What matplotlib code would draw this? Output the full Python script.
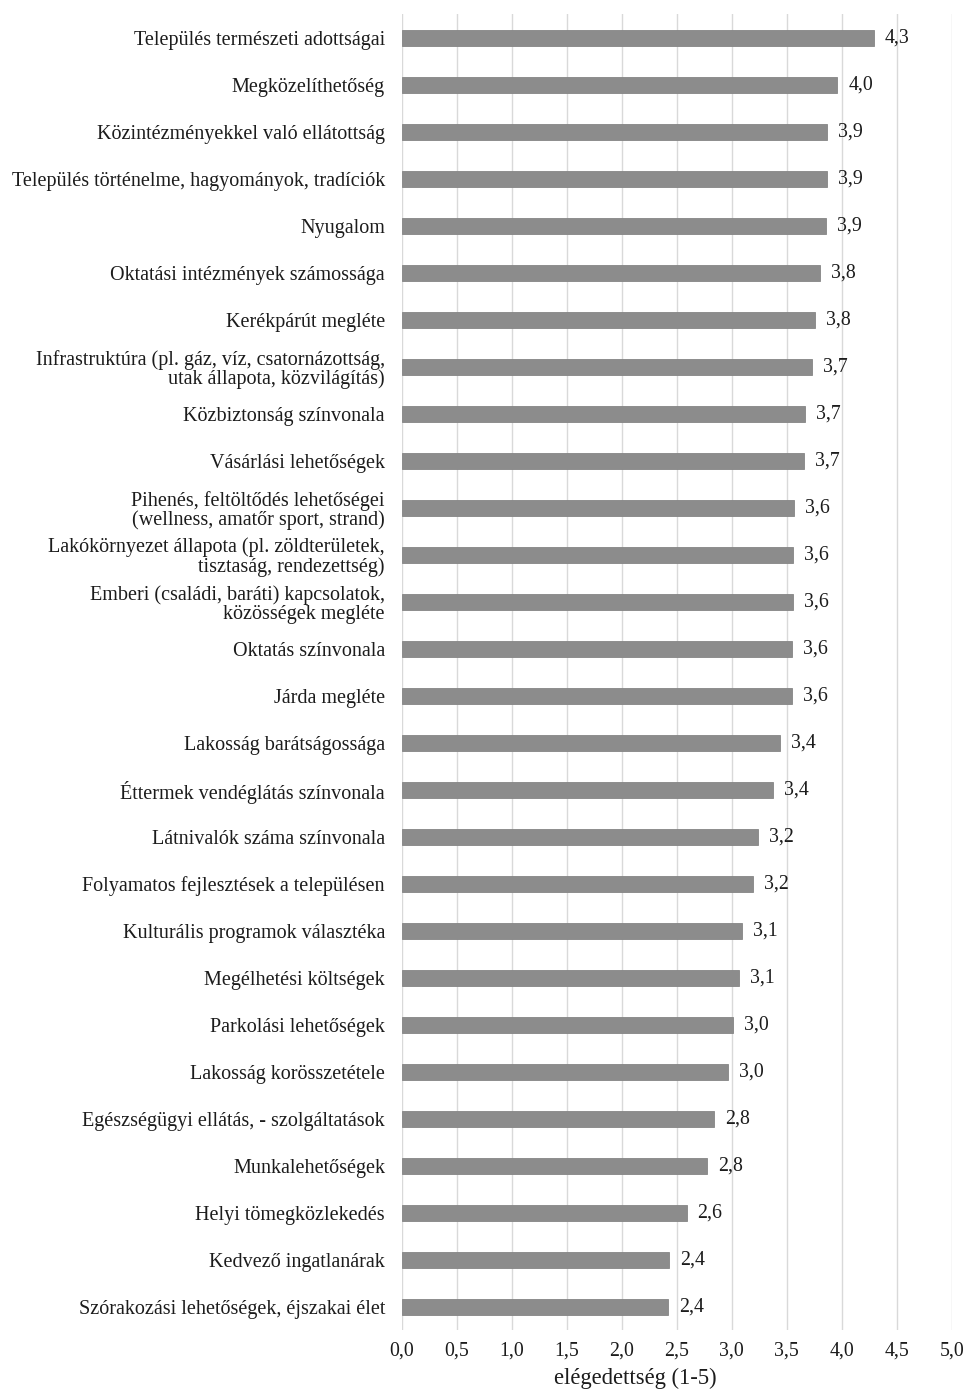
import matplotlib
matplotlib.use("Agg")
import matplotlib.pyplot as plt
import numpy as np

categories = [
    "Település természeti adottságai",
    "Megközelíthetőség",
    "Közintézményekkel való ellátottság",
    "Település történelme, hagyományok, tradíciók",
    "Nyugalom",
    "Oktatási intézmények számossága",
    "Kerékpárút megléte",
    "Infrastruktúra (pl. gáz, víz, csatornázottság,\nutak állapota, közvilágítás)",
    "Közbiztonság színvonala",
    "Vásárlási lehetőségek",
    "Pihenés, feltöltődés lehetőségei\n(wellness, amatőr sport, strand)",
    "Lakókörnyezet állapota (pl. zöldterületek,\ntisztaság, rendezettség)",
    "Emberi (családi, baráti) kapcsolatok,\nközösségek megléte",
    "Oktatás színvonala",
    "Járda megléte",
    "Lakosság barátságossága",
    "Éttermek vendéglátás színvonala",
    "Látnivalók száma színvonala",
    "Folyamatos fejlesztések a településen",
    "Kulturális programok választéka",
    "Megélhetési költségek",
    "Parkolási lehetőségek",
    "Lakosság korösszetétele",
    "Egészségügyi ellátás, - szolgáltatások",
    "Munkalehetőségek",
    "Helyi tömegközlekedés",
    "Kedvező ingatlanárak",
    "Szórakozási lehetőségek, éjszakai élet",
]

values = [4.29, 3.96, 3.87, 3.87, 3.86, 3.80, 3.76, 3.73, 3.67, 3.66,
          3.57, 3.56, 3.56, 3.552, 3.552, 3.44, 3.38, 3.24, 3.19, 3.09,
          3.07, 3.01, 2.97, 2.84, 2.78, 2.59, 2.43, 2.42]

x_ticks = [0.0, 0.5, 1.0, 1.5, 2.0, 2.5, 3.0, 3.5, 4.0, 4.5, 5.0]
x_label = "elégedettség (1-5)"

plt.rcParams['font.family'] = ['Liberation Serif', 'DejaVu Serif']
text_color = "#1c1c1c"

fig = plt.figure(figsize=(9.66, 13.92), dpi=100)
ax = fig.add_axes([0.4158, 0.0442, 0.5694, 0.9454])

y = np.arange(len(categories))
ax.barh(y, values, height=0.34, color="#8c8c8c", edgecolor="#858585", linewidth=0.6, zorder=3)

for yi, v in zip(y, values):
    ax.text(v + 0.1, yi, f"{v:.1f}".replace(".", ","), va="center", ha="left",
            fontsize=14.3, color=text_color, zorder=4)

ax.set_ylim(len(categories) - 0.5, -0.5)
ax.set_xlim(0, 5)
ax.set_yticks(y)
ax.set_yticklabels(categories, fontsize=14.5, color=text_color, linespacing=0.98)
ax.set_xticks(x_ticks)
ax.set_xticklabels([f"{t:.1f}".replace(".", ",") for t in x_ticks], fontsize=14.3, color=text_color)
ax.tick_params(axis="both", length=0)
ax.tick_params(axis="y", pad=12)
ax.tick_params(axis="x", pad=8)
ax.set_xlabel(x_label, fontsize=16.3, color=text_color)
ax.xaxis.set_label_coords(0.424, -0.028)

ax.grid(axis="x", color="#d9d9d9", linewidth=1.0, zorder=0)
for s in ax.spines.values():
    s.set_visible(False)

fig.savefig("out.png", dpi=100, facecolor="white")
